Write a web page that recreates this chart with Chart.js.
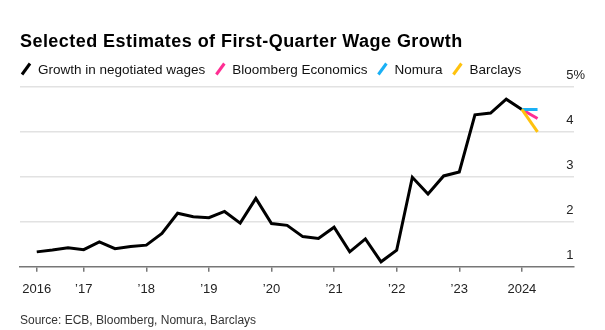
<!DOCTYPE html>
<html>
<head>
<meta charset="utf-8">
<script src="https://cdn.jsdelivr.net/npm/chart.js@4.4.1/dist/chart.umd.min.js"></script>
<style>
  html, body { margin: 0; padding: 0; background: #fff; }
  #wrap { width: 605px; height: 330px; position: relative; }
</style>
</head>
<body>
<div id="wrap"><canvas id="wage-chart"></canvas></div>
<script>
const FONT = "'Liberation Sans', Arial, sans-serif";

// quarterly negotiated wage growth, %, 2016 Q1 .. 2023 Q4
const quarters = [
  "2016 Q1", "2016 Q2", "2016 Q3", "2016 Q4",
  "2017 Q1", "2017 Q2", "2017 Q3", "2017 Q4",
  "2018 Q1", "2018 Q2", "2018 Q3", "2018 Q4",
  "2019 Q1", "2019 Q2", "2019 Q3", "2019 Q4",
  "2020 Q1", "2020 Q2", "2020 Q3", "2020 Q4",
  "2021 Q1", "2021 Q2", "2021 Q3", "2021 Q4",
  "2022 Q1", "2022 Q2", "2022 Q3", "2022 Q4",
  "2023 Q1", "2023 Q2", "2023 Q3", "2023 Q4",
  "2024 Q1",
];
const negotiatedWages = [
  1.33, 1.37, 1.42, 1.38,
  1.55, 1.40, 1.45, 1.48,
  1.74, 2.19, 2.11, 2.09,
  2.23, 1.97, 2.52, 1.96,
  1.92, 1.67, 1.63, 1.88,
  1.33, 1.62, 1.11, 1.37,
  2.99, 2.62, 3.02, 3.11,
  4.38, 4.42, 4.73, 4.50,
];

// first-quarter 2024 forecasts
const forecasters = ["Bloomberg Economics", "Nomura", "Barclays"];
const forecastValues = [4.3, 4.5, 4.0];
const forecastColors = ["#ff2e93", "#1ab0f5", "#ffc20e"];

// year ticks sit on the last quarter of the previous year
const tickQuarters = ["2016 Q1", "2016 Q4", "2017 Q4", "2018 Q4", "2019 Q4", "2020 Q4", "2021 Q4", "2022 Q4", "2023 Q4"];
const tickLabels = ["2016", "\u201917", "\u201918", "\u201919", "\u201920", "\u201921", "\u201922", "\u201923", "2024"];
const yTicks = [1, 2, 3, 4, 5];

const lastIdx = negotiatedWages.length - 1;
const forecastIdx = quarters.indexOf("2024 Q1");

const datasets = [
  {
    label: "Growth in negotiated wages",
    data: negotiatedWages.map((v, i) => ({ x: i, y: v })),
    borderColor: "#000000",
    borderWidth: 3,
    order: 10,
  },
];
// draw yellow first, blue on top
[2, 0, 1].forEach((k) => {
  datasets.push({
    label: forecasters[k],
    data: [
      { x: lastIdx, y: negotiatedWages[lastIdx] },
      { x: forecastIdx, y: forecastValues[k] },
    ],
    borderColor: forecastColors[k],
    borderWidth: 3,
    order: 3 - k,
  });
});

const legendItems = [
  { label: "Growth in negotiated wages", color: "#000000" },
  ...forecasters.map((f, k) => ({ label: f, color: forecastColors[k] })),
];

// title, legend, source line and the right-hand value labels
const headerPlugin = {
  id: "header",
  afterDraw(chart) {
    const ctx = chart.ctx;
    ctx.save();
    ctx.textBaseline = "alphabetic";
    ctx.textAlign = "left";
    ctx.fillStyle = "#000";
    ctx.font = "bold 18px " + FONT;
    ctx.letterSpacing = "0.45px";
    ctx.fillText("Selected Estimates of First-Quarter Wage Growth", 20, 46.5);
    ctx.letterSpacing = "0px";

    ctx.font = "13.5px " + FONT;
    let x = 21;
    const base = 73.5;
    legendItems.forEach((item) => {
      ctx.strokeStyle = item.color;
      ctx.lineWidth = 3;
      ctx.lineCap = "butt";
      ctx.beginPath();
      ctx.moveTo(x + 1, base + 1);
      ctx.lineTo(x + 9, base - 10);
      ctx.stroke();
      ctx.fillStyle = "#111";
      ctx.fillText(item.label, x + 17, base);
      x += 17 + ctx.measureText(item.label).width + 10;
    });

    ctx.font = "12px " + FONT;
    ctx.fillStyle = "#333";
    ctx.fillText("Source: ECB, Bloomberg, Nomura, Barclays", 20, 324);

    // value labels sit just above their gridlines
    const yScale = chart.scales.y;
    const right = chart.chartArea.right - 0.5;
    ctx.font = "13px " + FONT;
    ctx.fillStyle = "#222";
    yTicks.forEach((v) => {
      const y = yScale.getPixelForValue(v) - 8;
      ctx.textAlign = "right";
      ctx.fillText(String(v), right, y);
      if (v === yTicks[yTicks.length - 1]) {
        ctx.textAlign = "left";
        ctx.fillText("%", right, y);
      }
    });
    ctx.restore();
  },
};

const options = {
  type: "line",
  data: { datasets },
  options: {
    responsive: false,
    animation: false,
    events: [],
    layout: { padding: { left: 20, top: 87, right: 0, bottom: 28.3 } },
    elements: { point: { radius: 0 }, line: { tension: 0 } },
    plugins: { legend: { display: false }, tooltip: { enabled: false } },
    scales: {
      x: {
        type: "linear",
        min: -1.07,
        max: 34.33,
        afterBuildTicks: (axis) => {
          axis.ticks = tickQuarters.map((q) => ({ value: quarters.indexOf(q) }));
        },
        afterFit: (axis) => { axis.height = 35; },
        border: { display: true, color: "#777", width: 1.5 },
        grid: { drawOnChartArea: false, drawTicks: true, tickLength: 5, color: "#777", lineWidth: 1.5 },
        ticks: {
          autoSkip: false,
          maxRotation: 0,
          padding: 10,
          color: "#222",
          font: { family: FONT, size: 13 },
          callback: (v) => tickLabels[tickQuarters.findIndex((q) => quarters.indexOf(q) === v)],
        },
      },
      y: {
        position: "right",
        min: 1,
        max: 5,
        afterBuildTicks: (axis) => {
          axis.ticks = yTicks.map((v) => ({ value: v }));
        },
        afterFit: (axis) => { axis.width = 31; },
        border: { display: false },
        grid: {
          drawTicks: false,
          lineWidth: 1.5,
          color: (c) => (c.tick && c.tick.value === 1 ? "rgba(0,0,0,0)" : "#e2e2e2"),
        },
        ticks: { display: false },
      },
    },
  },
  plugins: [headerPlugin],
};

const canvas = document.querySelector("#wage-chart");
canvas.width = 605;
canvas.height = 330;
const wageChart = new Chart(canvas, options);
</script>
</body>
</html>
